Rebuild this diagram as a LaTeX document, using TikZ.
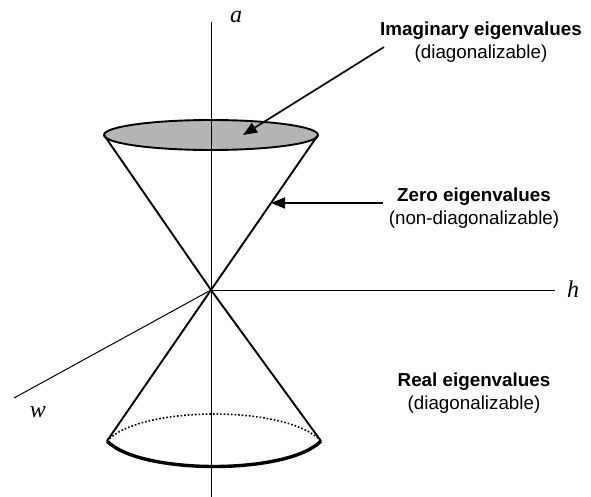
\documentclass[tikz,border=0pt]{standalone}
\usepackage{fontspec}
\setmainfont{Liberation Sans}
\newfontfamily\axisfont{Liberation Serif}
\usetikzlibrary{arrows.meta}
\tikzset{
  axisline/.style={line width=1pt, draw=black},
  coneline/.style={line width=1.9pt, draw=black},
  pointer/.style={line width=1.7pt, -{Triangle[length=14pt,width=11pt]}},
  axislabel/.style={font=\axisfont\itshape\fontsize{24}{24}\selectfont, inner sep=0pt},
  label/.style={align=center, font=\fontsize{18.8}{23.5}\selectfont, inner sep=0pt},
}
\begin{document}
\begin{tikzpicture}[x=1pt,y=-1pt]
\useasboundingbox (0,0) rectangle (591,497);
% coordinates
\coordinate (O) at (211,290);
\coordinate (atop) at (211,22);
\coordinate (abot) at (211,497);
\coordinate (hend) at (555,290);
\coordinate (wend) at (14,398);
\coordinate (TL) at (104,135);
\coordinate (TR) at (318,135);
\coordinate (BL) at (107,441);
\coordinate (BR) at (321,441);
% axes
\draw[axisline] (atop) -- (abot);
\draw[axisline] (O) -- (hend);
\draw[axisline] (O) -- (wend);
\node[axislabel] (la) at (236,17) {a};
\node[axislabel] (lh) at (573,289) {h};
\node[axislabel] (lw) at (38,412) {w};
% top ellipse
\draw[coneline, fill={rgb,255:red,180;green,180;blue,180}] (211,135) ellipse [x radius=107pt, y radius=15pt];
\draw[axisline] (211,120) -- (211,150);
% cone lines
\draw[coneline] (TL) -- (O) -- (BR);
\draw[coneline] (TR) -- (O) -- (BL);
% bottom ellipse
\draw[line width=1.6pt, dotted] (BL) .. controls (140,405) and (288,405) .. (BR);
\draw[line width=3.4pt] (BL) .. controls (140,475) and (288,475) .. (BR);
% labels
\node[label] (imag) at (481,42) {\textbf{Imaginary eigenvalues}\\(diagonalizable)};
\node[label] (zero) at (474,208) {\textbf{Zero eigenvalues}\\(non-diagonalizable)};
\node[label] (real) at (474,393) {\textbf{Real eigenvalues}\\(diagonalizable)};
% pointers
\coordinate (p1s) at (384,47);
\coordinate (p1e) at (243,135);
\coordinate (p2s) at (383,203);
\coordinate (p2e) at (271,203);
\draw[pointer] (p1s) -- (p1e);
\draw[pointer] (p2s) -- (p2e);
\end{tikzpicture}
\end{document}
